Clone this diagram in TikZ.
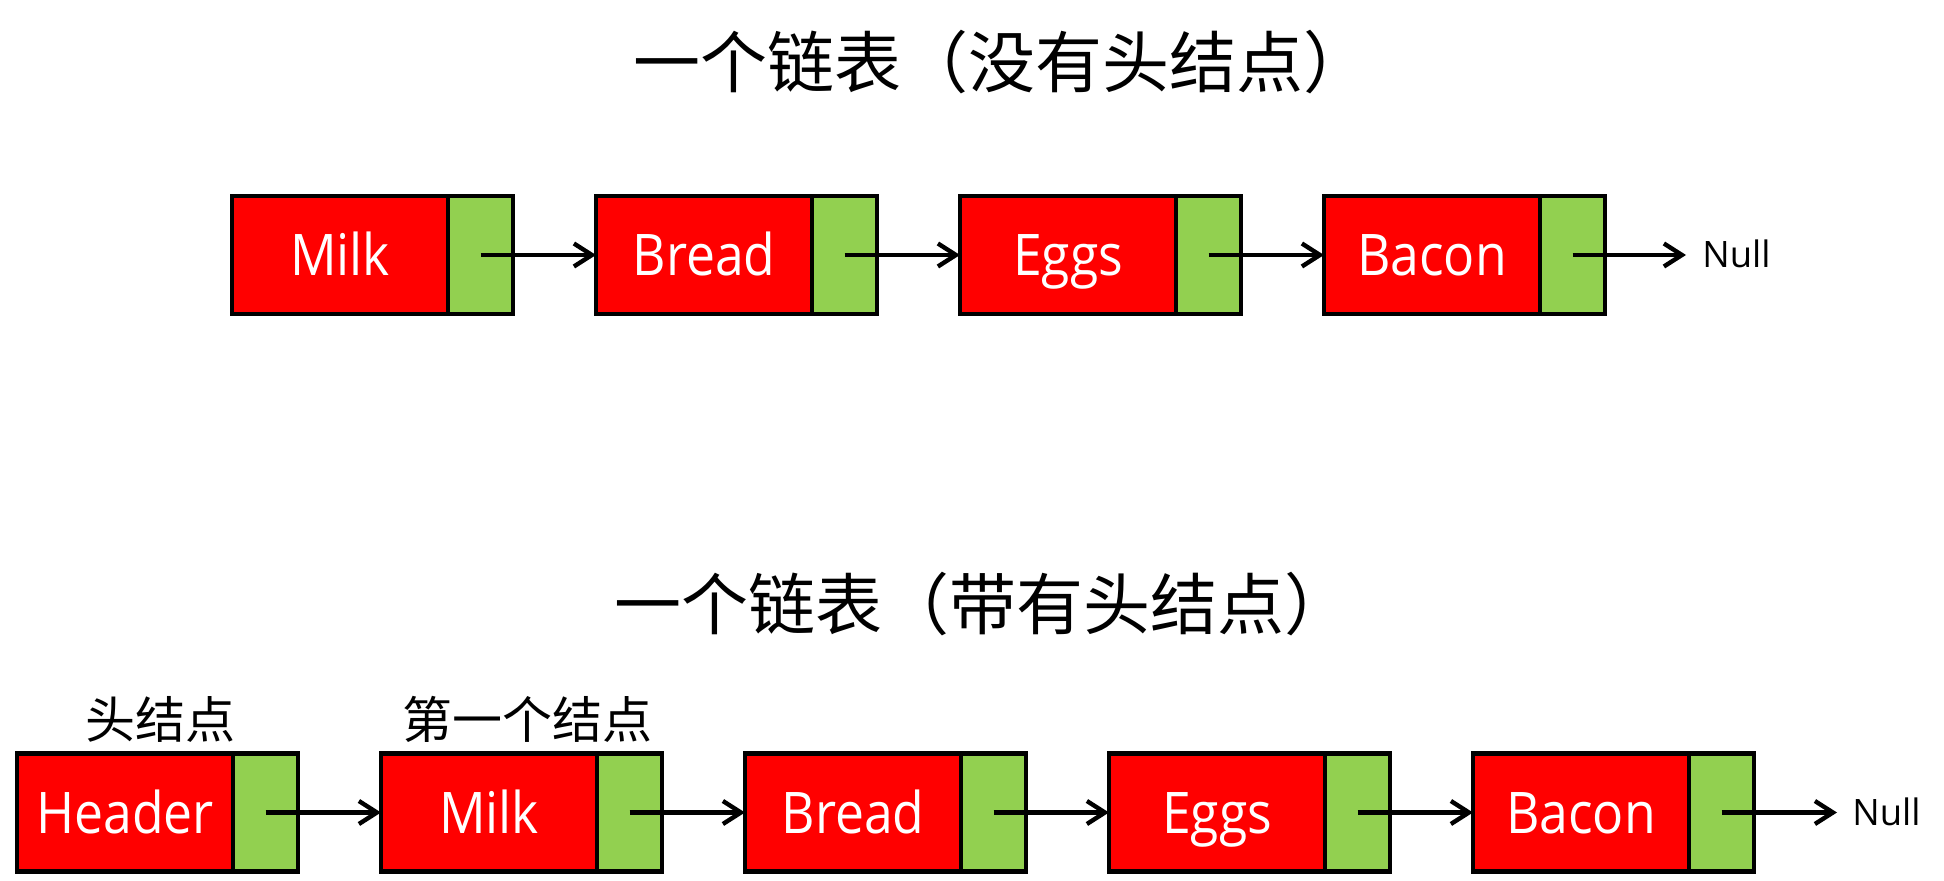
\documentclass[tikz,border=0pt]{standalone}
\usepackage{fontspec}
\setmainfont{Open Sans}
\newfontfamily\boxfont[FakeStretch=0.9]{Open Sans}
\newfontfamily\cjk{Noto Sans CJK SC}
\usetikzlibrary{arrows.meta}
\definecolor{ptrgreen}{HTML}{92D050}
\begin{document}
\begin{tikzpicture}[x=0.5pt,y=-0.5pt,
  datacell/.style={draw=black,line width=2.3pt,fill=red,minimum width=108pt,minimum height=59pt,
    inner sep=0pt,outer sep=0pt,text=white,font=\boxfont\fontsize{28.7pt}{30pt}\selectfont,
    text height=20.5pt,text depth=0pt},
  ptrcell/.style={draw=black,line width=2.3pt,fill=ptrgreen,minimum width=32.5pt,minimum height=59pt,
    inner sep=0pt,outer sep=0pt},
  link/.style={line width=2.2pt,-{Straight Barb[length=9pt,width=11.5pt]}},
  titletext/.style={font=\cjk\fontsize{33.5pt}{36pt}\selectfont,inner sep=0pt,
    text height=29.5pt,text depth=4pt},
  labeltext/.style={font=\cjk\fontsize{25pt}{27pt}\selectfont,inner sep=0pt,
    text height=22pt,text depth=3pt},
  nulltext/.style={font=\fontsize{18.2pt}{20pt}\selectfont,inner sep=0pt,
    text height=13pt,text depth=0pt,anchor=west}
]
\useasboundingbox (0,0) rectangle (1944,881);

% titles
\node[titletext] (t1) at (1002,62) {一个链表（没有头结点）};
\node[titletext] (t2) at (983,604) {一个链表（带有头结点）};

% top list
\node[datacell] (r1) at (340,255) {Milk};
\node[ptrcell]  (g1) at (480.5,255) {};
\node[datacell] (r2) at (704,255) {Bread};
\node[ptrcell]  (g2) at (844.5,255) {};
\node[datacell] (r3) at (1068,255) {Eggs};
\node[ptrcell]  (g3) at (1208.5,255) {};
\node[datacell] (r4) at (1432,255) {Bacon};
\node[ptrcell]  (g4) at (1572.5,255) {};
\node[nulltext] (n1) at (1702,255) {Null};

\draw[link] (g1.center) -- (r2.west);
\draw[link] (g2.center) -- (r3.west);
\draw[link] (g3.center) -- (r4.west);
\draw[link] (g4.center) -- ([xshift=-8pt]n1.west);

% bottom list
\node[labeltext] (l1) at (160,719) {头结点};
\node[labeltext] (l2) at (527,719) {第一个结点};

\node[datacell] (b0) at (125,812.5) {Header};
\node[ptrcell]  (h0) at (265.5,812.5) {};
\node[datacell] (b1) at (489,812.5) {Milk};
\node[ptrcell]  (h1) at (629.5,812.5) {};
\node[datacell] (b2) at (853,812.5) {Bread};
\node[ptrcell]  (h2) at (993.5,812.5) {};
\node[datacell] (b3) at (1217,812.5) {Eggs};
\node[ptrcell]  (h3) at (1357.5,812.5) {};
\node[datacell] (b4) at (1581,812.5) {Bacon};
\node[ptrcell]  (h4) at (1721.5,812.5) {};
\node[nulltext] (n2) at (1852,812.5) {Null};

\draw[link] (h0.center) -- (b1.west);
\draw[link] (h1.center) -- (b2.west);
\draw[link] (h2.center) -- (b3.west);
\draw[link] (h3.center) -- (b4.west);
\draw[link] (h4.center) -- ([xshift=-7.5pt]n2.west);
\end{tikzpicture}
\end{document}
